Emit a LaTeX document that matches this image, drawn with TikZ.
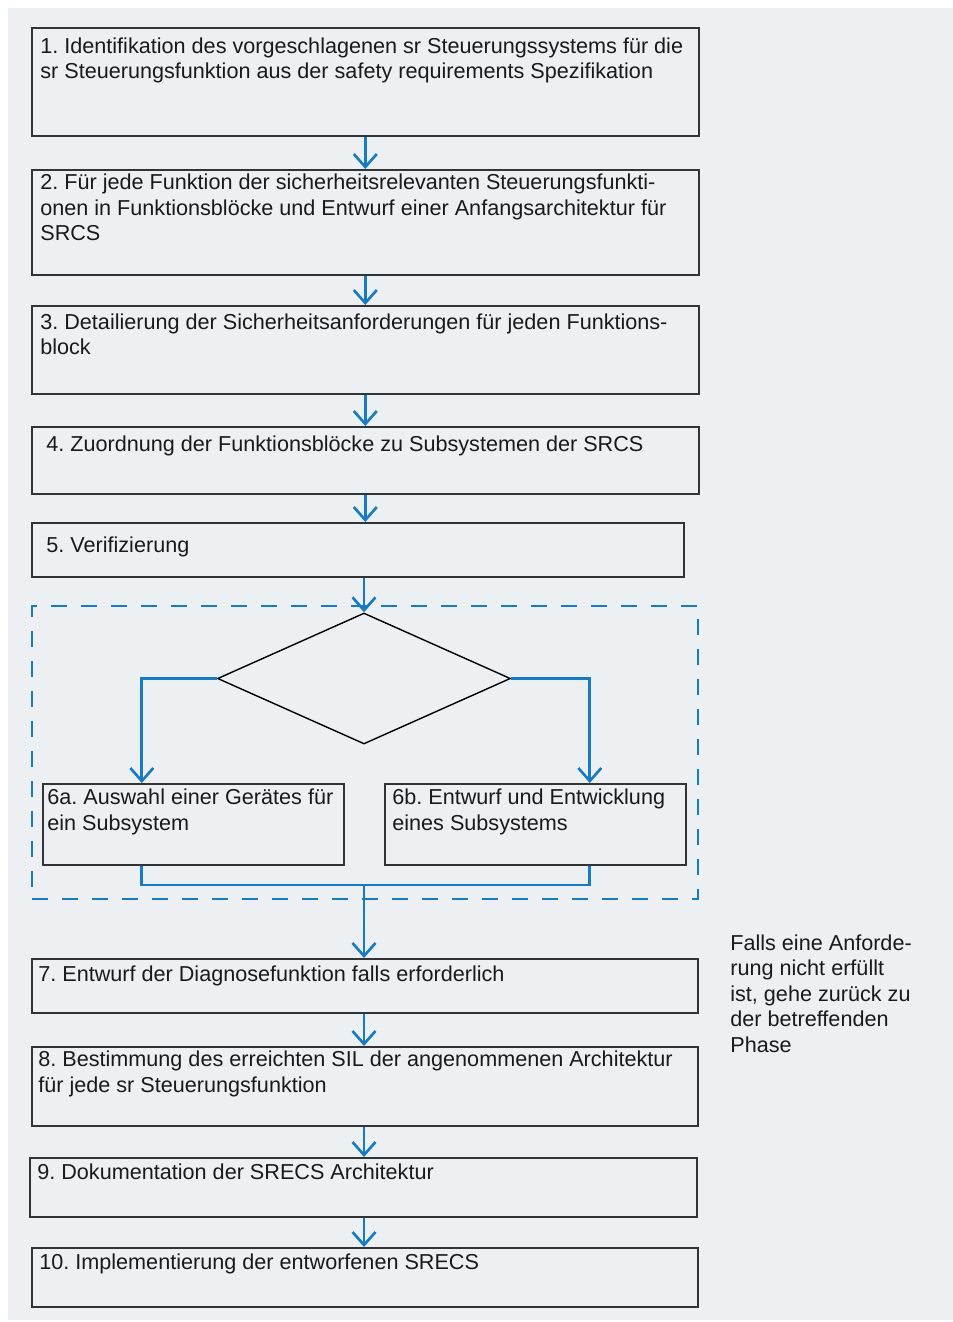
\documentclass[tikz,border=0pt]{standalone}
\usepackage{fontspec}
\setmainfont{Liberation Sans}
\frenchspacing
\usetikzlibrary{shapes.geometric, positioning, arrows.meta, calc}
\definecolor{panel}{RGB}{236,240,243}
\definecolor{flowblue}{RGB}{22,122,196}
\definecolor{boxline}{RGB}{51,51,51}
\definecolor{txt}{RGB}{26,26,26}
\tikzset{
  stepbox/.style={rectangle, draw=boxline, line width=0.9pt, anchor=north west, inner sep=0pt},
  steptext/.style={anchor=north west, align=left, inner sep=0pt, text=txt, font=\fontsize{12.3}{14.6}\selectfont, execute at begin node=\strut},
  flow/.style={draw=flowblue, line width=1.5pt, -{Straight Barb[length=2.6mm, width=4.6mm, line width=1.5pt]}},
  link/.style={draw=flowblue, line width=1.5pt},
  group/.style={rectangle, draw=flowblue, line width=1pt, dash pattern=on 0.32cm off 0.28cm, anchor=north west, inner sep=0pt}
}

\begin{document}
\begin{tikzpicture}
    \useasboundingbox (0,0) rectangle (19.06,-26.44);
    \fill[panel] (0.16,-0.16) rectangle (19.06,-26.40);

    % Schritte 1 bis 5
    \node[stepbox, minimum width=13.34cm, minimum height=2.16cm] (s1) at (0.62,-0.54) {};
    \node[steptext] (t1) at ($(s1.north west)+(0.18,-0.20)$) {1. Identifikation des vorgeschlagenen sr Steuerungssystems für die\\sr Steuerungsfunktion aus der safety requirements Spezifikation};

    \node[stepbox, minimum width=13.34cm, minimum height=2.10cm] (s2) at (0.62,-3.38) {};
    \node[steptext] (t2) at ($(s2.north west)+(0.18,-0.09)$) {2. Für jede Funktion der sicherheitsrelevanten Steuerungsfunkti-\\onen in Funktionsblöcke und Entwurf einer Anfangsarchitektur für\\SRCS};

    \node[stepbox, minimum width=13.34cm, minimum height=1.76cm] (s3) at (0.62,-6.10) {};
    \node[steptext] (t3) at ($(s3.north west)+(0.18,-0.16)$) {3. Detailierung der Sicherheitsanforderungen für jeden Funktions-\\block};

    \node[stepbox, minimum width=13.34cm, minimum height=1.34cm] (s4) at (0.62,-8.52) {};
    \node[steptext] (t4) at ($(s4.north west)+(0.30,-0.15)$) {4. Zuordnung der Funktionsblöcke zu Subsystemen der SRCS};

    \node[stepbox, minimum width=13.04cm, minimum height=1.08cm] (s5) at (0.62,-10.44) {};
    \node[steptext] (t5) at ($(s5.north west)+(0.30,-0.25)$) {5. Verifizierung};

    % Pfeile zwischen den Schritten
    \foreach \a/\b in {s1/s2, s2/s3, s3/s4, s4/s5} {
        \draw[flow] (\a.south) -- (\a.south |- \b.north);
    }

    % Block 6 (gestrichelt) mit Verzweigung
    \node[group, minimum width=13.32cm, minimum height=5.86cm] (grp) at (0.62,-12.10) {};
    \node[diamond, draw=black, line width=0.8pt, inner sep=0pt, minimum width=5.86cm, minimum height=2.62cm] (dia) at (7.28,-13.57) {};

    \node[stepbox, minimum width=6.02cm, minimum height=1.62cm] (a6) at (0.84,-15.66) {};
    \node[steptext] (ta6) at ($(a6.north west)+(0.10,-0.11)$) {6a. Auswahl einer Gerätes für\\ein Subsystem};

    \node[stepbox, minimum width=6.02cm, minimum height=1.62cm] (b6) at (7.68,-15.66) {};
    \node[steptext] (tb6) at ($(b6.north west)+(0.16,-0.11)$) {6b. Entwurf und Entwicklung\\eines Subsystems};

    \draw[flow] (s5.south -| dia.north) -- (dia.north);
    \draw[flow] (dia.west) -| ([xshift=-1.03cm]a6.north);
    \draw[flow] (dia.east) -| ([xshift=1.09cm]b6.north);

    % Zusammenführung
    \coordinate (join) at (7.28,-17.70);
    \draw[link] ([xshift=-1.03cm]a6.south) |- (join) -| ([xshift=1.09cm]b6.south);

    % Schritte 7 bis 10
    \node[stepbox, minimum width=13.32cm, minimum height=1.08cm] (s7) at (0.62,-19.16) {};
    \node[steptext] (t7) at ($(s7.north west)+(0.14,-0.10)$) {7. Entwurf der Diagnosefunktion falls erforderlich};

    \node[stepbox, minimum width=13.32cm, minimum height=1.58cm] (s8) at (0.62,-20.92) {};
    \node[steptext] (t8) at ($(s8.north west)+(0.14,-0.09)$) {8. Bestimmung des erreichten SIL der angenommenen Architektur\\für jede sr Steuerungsfunktion};

    \node[stepbox, minimum width=13.34cm, minimum height=1.18cm] (s9) at (0.58,-23.14) {};
    \node[steptext] (t9) at ($(s9.north west)+(0.16,-0.08)$) {9. Dokumentation der SRECS Architektur};

    \node[stepbox, minimum width=13.32cm, minimum height=1.18cm] (s10) at (0.62,-24.94) {};
    \node[steptext] (t10) at ($(s10.north west)+(0.16,-0.08)$) {10. Implementierung der entworfenen SRECS};

    \draw[flow] (join) -- (join |- s7.north);
    \foreach \a/\b in {s7/s8, s8/s9, s9/s10} {
        \draw[flow] (\a.south -| join) -- (join |- \b.north);
    }

    % Hinweis rechts
    \node[steptext] (hint) at (14.60,-18.68) {Falls eine Anforde-\\rung nicht erfüllt\\ist, gehe zurück zu\\der betreffenden\\Phase};

\end{tikzpicture}
\end{document}
